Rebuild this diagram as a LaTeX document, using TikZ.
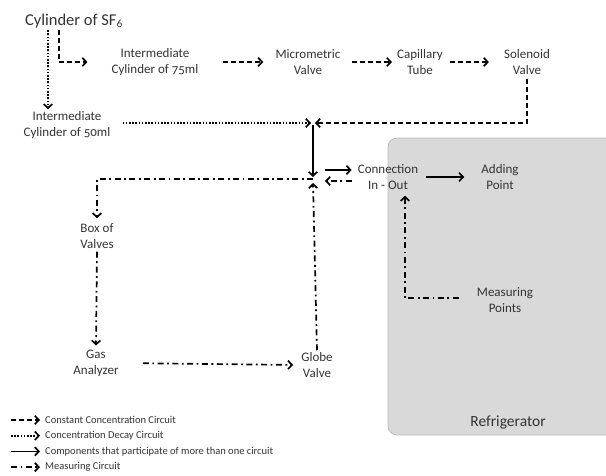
\documentclass[tikz,border=0pt]{standalone}
\usepackage{fontspec}
\setmainfont{Carlito}[Numbers=OldStyle]
\usetikzlibrary{arrows.meta}

\definecolor{txtgray}{HTML}{333333}
\definecolor{fridgefill}{HTML}{D9D9D9}
\definecolor{fridgeline}{HTML}{BDBDBD}

\tikzset{
  part/.style={align=center, font=\fontsize{13}{16}\selectfont, text=txtgray, inner sep=2pt},
  keytext/.style={anchor=west, font=\fontsize{10.5}{12}\selectfont, text=txtgray, inner sep=0pt},
  flow/.style={line width=1.7pt, -{Straight Barb[length=4pt,width=8.5pt]}},
  constant/.style={flow, dash pattern=on 5pt off 3pt},
  decay/.style={flow, dash pattern=on 1.6pt off 1.6pt},
  shared/.style={flow},
  measure/.style={flow, dash pattern=on 6pt off 3.5pt on 1.8pt off 3.5pt},
}

\begin{document}
\begin{tikzpicture}[x=1pt,y=-1pt]
    \useasboundingbox (0,0) rectangle (606,475);

    % refrigerator
    \draw[fill=fridgefill, draw=fridgeline, line width=0.8pt, rounded corners=9pt] (388,138) rectangle (640,435);
    \node[part, font=\fontsize{15.5}{18}\selectfont] (fridge) at (508,422) {Refrigerator};

    % components
    \node[part, font=\fontsize{16.5}{19}\selectfont] (sf6) at (74,21) {Cylinder of SF\textsubscript{6}};
    \node[part] (cyl75) at (155,62) {Intermediate\\Cylinder of 75ml};
    \node[part] (micro) at (308,62) {Micrometric\\Valve};
    \node[part] (capil) at (420,62) {Capillary\\Tube};
    \node[part] (solen) at (527,62) {Solenoid\\Valve};
    \node[part] (cyl50) at (67,125) {Intermediate\\Cylinder of 50ml};
    \node[part] (conn) at (388,177) {Connection\\In - Out};
    \node[part] (adding) at (500,177) {Adding\\Point};
    \node[part] (box) at (97,236) {Box of\\Valves};
    \node[part] (gas) at (96,363) {Gas\\Analyzer};
    \node[part] (globe) at (317,365) {Globe\\Valve};
    \node[part] (meas) at (505,300) {Measuring\\Points};

    % junctions
    \coordinate (jtop) at (313,123);
    \coordinate (jmid) at (313,179);
    \coordinate (sfa) at ([xshift=-26pt]sf6.south);
    \coordinate (sfb) at ([xshift=-15pt]sf6.south);

    % constant concentration circuit
    \draw[constant] (sfb) |- ([xshift=-22pt]cyl75.west);
    \draw[constant, shorten <=22pt, shorten >=10pt] (cyl75.east) -- (micro.west);
    \draw[constant, shorten <=9pt, shorten >=3pt] (micro.east) -- (capil.west);
    \draw[constant, shorten <=5pt, shorten >=13pt] (capil.east) -- (solen.west);
    \draw[constant, shorten <=2pt, shorten >=2pt] (solen.south) |- (jtop);

    % concentration decay circuit
    \draw[decay] (sfa) -- (sfa |- cyl50.north);
    \draw[decay, shorten <=10pt, shorten >=2pt] ([yshift=2pt]cyl50.east) -- (jtop);

    % shared parts
    \draw[shared, shorten <=2pt, shorten >=2pt] (jtop) -- (jmid);
    \draw[shared, shorten >=4pt] ([xshift=12pt,yshift=9pt]jmid) -- ([yshift=7pt]conn.west);
    \draw[shared, shorten <=6pt, shorten >=15pt] (conn.east) -- (adding.west);

    % measuring circuit
    \draw[measure, shorten >=3pt] (jmid) -| (box.north);
    \draw[measure, shorten <=1pt, shorten >=2pt] (box.south) -- (gas.north);
    \draw[measure, shorten <=22pt, shorten >=6pt] (gas.east) -- (globe.west);
    \draw[measure] (globe.north) -- ([yshift=-4pt]jmid);
    \draw[measure, shorten <=4pt] ([yshift=-4pt]conn.west) -- ([xshift=12pt,yshift=-2pt]jmid);
    \draw[measure, shorten <=16pt, shorten >=4pt] ([yshift=2pt]meas.west) -| ([xshift=17pt]conn.south);

    % legend
    \foreach \sty/\txt [count=\i] in {constant/Constant Concentration Circuit,
        decay/Concentration Decay Circuit,
        shared/Components that participate of more than one circuit,
        measure/Measuring Circuit}
    {
        \pgfmathsetmacro{\ky}{420+15.7*(\i-1)}
        \coordinate (tail\i) at (11,\ky);
        \node[keytext] (key\i) at (45,\ky) {\txt};
        \draw[\sty, shorten >=5pt] (tail\i) -- (key\i.west);
    }
\end{tikzpicture}
\end{document}
